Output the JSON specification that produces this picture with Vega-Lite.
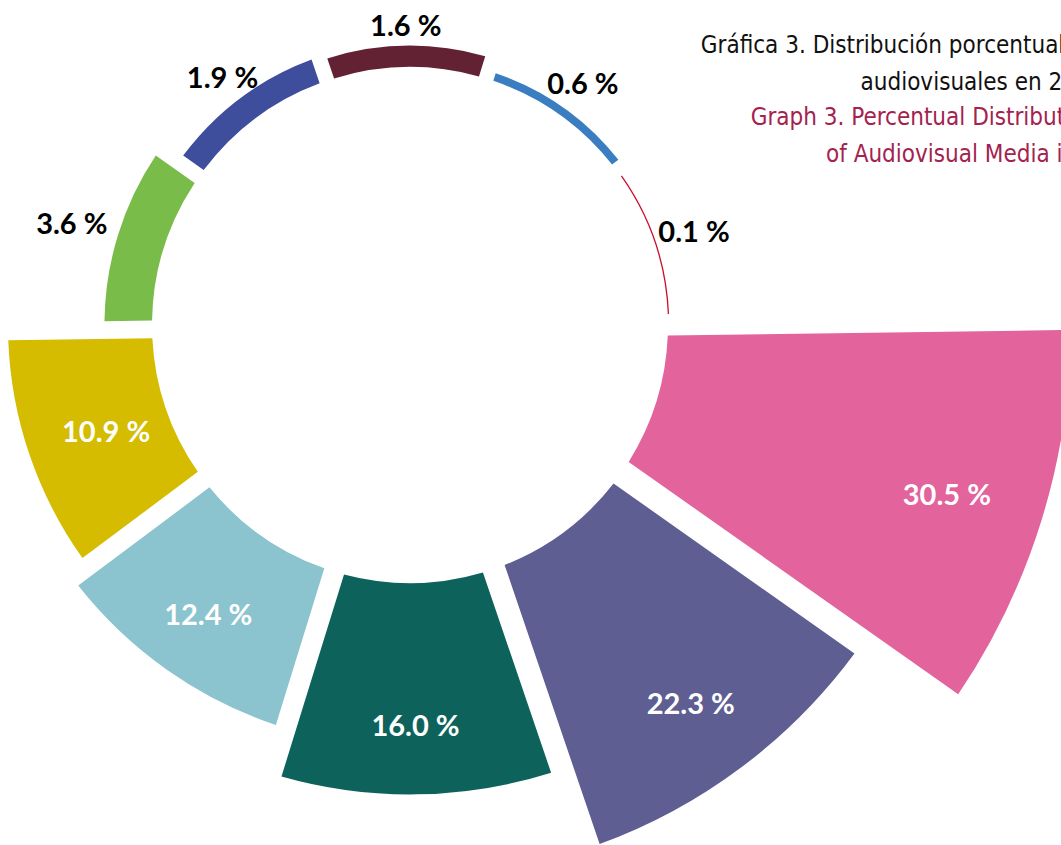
{
  "$schema": "https://vega.github.io/schema/vega-lite/v6.json",
  "autosize": {"type": "none"},
  "width": 820,
  "height": 650,
  "padding": {"left": 0, "top": 0, "right": 241, "bottom": 195},
  "background": "white",
  "title": {
    "text": ["Gráfica 3. Distribución porcentual por tipo de medio", "audiovisuales en 2017"],
    "subtitle": ["Graph 3. Percentual Distribution of Sectors", "of Audiovisual Media in 2017"],
    "anchor": "end",
    "align": "center",
    "frame": "group",
    "orient": "top",
    "baseline": "top",
    "dx": 162,
    "dy": 171,
    "font": "DejaVu Sans Condensed, Roboto",
    "fontSize": 24,
    "fontWeight": "normal",
    "color": "#111111",
    "lineHeight": 37,
    "subtitleFont": "DejaVu Sans Condensed, Roboto",
    "subtitleFontSize": 24,
    "subtitleColor": "#A3224F",
    "subtitleLineHeight": 37,
    "subtitlePadding": 11
  },
  "data": {
    "values": [
      {"cat": "A", "w": 1, "value": 30.5, "label": "30.5 %"},
      {"cat": "B", "w": 1, "value": 22.3, "label": "22.3 %"},
      {"cat": "C", "w": 1, "value": 16.0, "label": "16.0 %"},
      {"cat": "D", "w": 1, "value": 12.4, "label": "12.4 %"},
      {"cat": "E", "w": 1, "value": 10.9, "label": "10.9 %"},
      {"cat": "F", "w": 1, "value": 3.6, "label": "3.6 %"},
      {"cat": "G", "w": 1, "value": 1.9, "label": "1.9 %"},
      {"cat": "H", "w": 1, "value": 1.6, "label": "1.6 %"},
      {"cat": "I", "w": 1, "value": 0.6, "label": "0.6 %"},
      {"cat": "J", "w": 1, "value": 0.1, "label": "0.1 %"}
    ]
  },
  "transform": [
    {"stack": "w", "groupby": [], "sort": [{"field": "cat", "order": "ascending"}], "as": ["t0", "t1"]}
  ],
  "layer": [
    {
      "mark": {"type": "arc", "radius2": 258, "padAngle": 0.04},
      "encoding": {
        "theta": {"field": "t0", "type": "quantitative", "scale": {"domain": [0, 10], "range": [1.5568, 7.84]}},
        "theta2": {"field": "t1"},
        "radius": {"field": "value", "type": "quantitative", "stack": false, "scale": {"type": "linear", "domain": [0, 30.5], "range": [258, 661], "zero": true}},
        "color": {
          "field": "cat", "type": "nominal", "legend": null,
          "scale": {
            "domain": ["A", "B", "C", "D", "E", "F", "G", "H", "I", "J"],
            "range": ["#E3639D", "#5E5E92", "#0D635B", "#8BC3CE", "#D5BC00", "#79BC4A", "#3E4E9D", "#632134", "#3A7EC1", "#C8102E"]
          }
        }
      }
    },
    {
      "mark": {"type": "text", "font": "Lato", "fontWeight": "bold", "fontSize": 29, "thetaOffset": 0.31416, "dy": 5},
      "encoding": {
        "theta": {"field": "t0", "type": "quantitative", "stack": false, "scale": {"domain": [0, 10], "range": [1.5568, 7.84]}},
        "radius": {"field": "value", "type": "quantitative", "stack": false, "scale": {"type": "linear", "domain": [0, 0.6, 1.6, 1.9, 3.6, 10.9, 12.4, 16, 30.5], "range": [300, 300, 303, 313, 354, 321, 350, 397, 562], "zero": false}},
        "text": {"field": "label", "type": "nominal"},
        "color": {
          "condition": {"test": "datum.value >= 10", "value": "white"},
          "value": "black"
        }
      }
    }
  ],
  "resolve": {"scale": {"radius": "independent", "color": "independent"}}
}
